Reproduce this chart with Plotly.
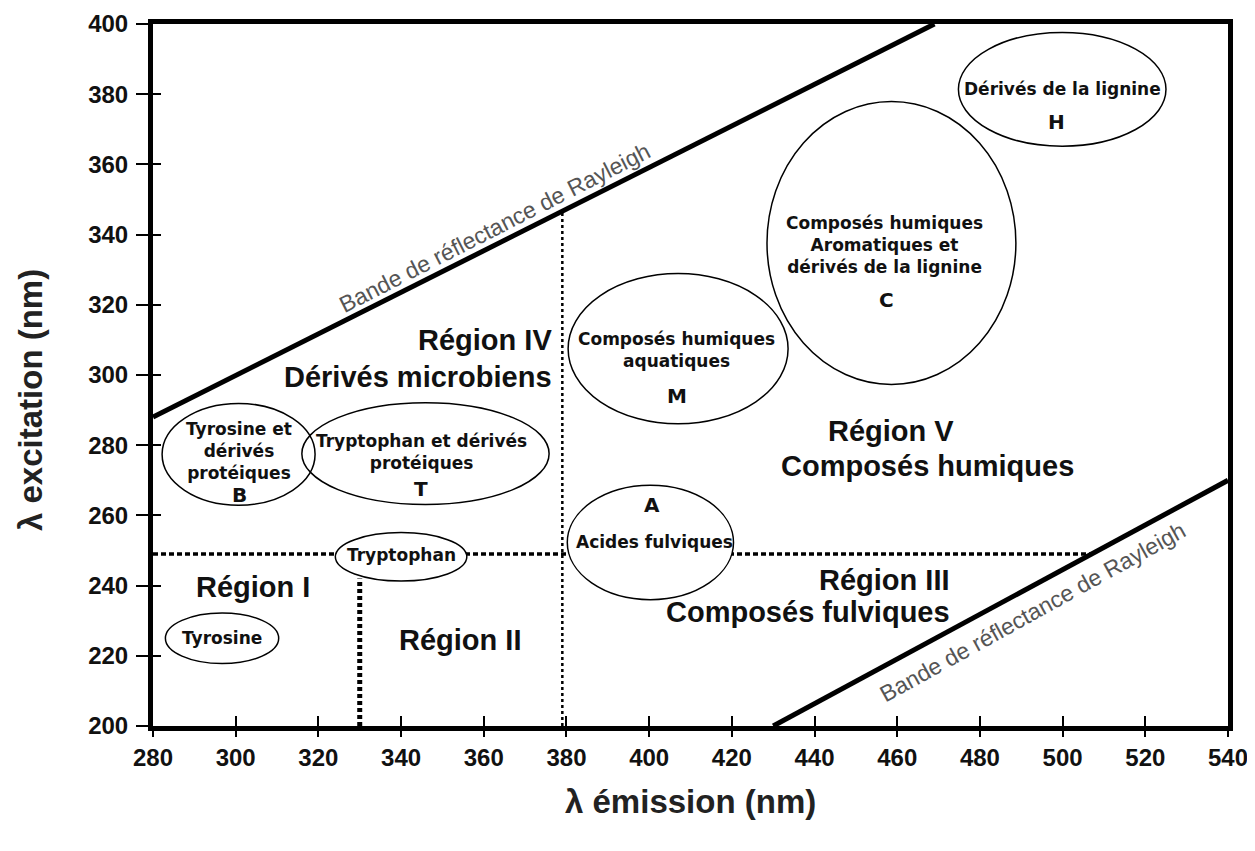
import plotly.graph_objects as go

# ---- data ----
x_range = [280, 540]
y_range = [200, 400]
x_ticks = list(range(280, 541, 20))
y_ticks = list(range(200, 401, 20))

# Rayleigh bands
rayleigh_upper_x = [280, 469]
rayleigh_upper_y = [288, 400]
rayleigh_lower_x = [430, 540]
rayleigh_lower_y = [200, 270]

# region boundaries (dotted)
boundary_h_x = [280, 507]
boundary_h_y = [249, 249]
boundary_v1_x = [330, 330]
boundary_v1_y = [200, 242]
boundary_v2_x = [379, 379]
boundary_v2_y = [200, 347]

# ellipses: centre x, centre y, half-width, half-height
ell_names = ["B", "T", "Tryptophan", "Tyrosine", "M", "A", "C", "H"]
ell_cx = [300.7, 345.9, 340.0, 296.7, 407.0, 400.3, 458.6, 499.9]
ell_cy = [277.4, 277.6, 248.2, 225.0, 307.5, 252.3, 337.6, 381.4]
ell_rx = [18.5, 29.9, 15.9, 13.7, 26.6, 20.1, 30.1, 25.1]
ell_ry = [14.5, 14.5, 6.9, 7.2, 21.4, 16.3, 40.3, 16.2]

# ellipse descriptions
lab_text = ["Tyrosine et<br>dérivés<br>protéiques",
            "Tryptophan et dérivés<br>protéiques",
            "Tryptophan",
            "Tyrosine",
            "Composés humiques<br>aquatiques",
            "Acides fulviques",
            "Composés humiques<br>Aromatiques et<br>dérivés de la lignine",
            "Dérivés de la lignine"]
lab_x = [300.8, 345.0, 340.2, 296.7, 406.7, 401.2, 456.8, 500.0]
lab_y = [278.3, 278.1, 248.6, 225.2, 307.0, 252.3, 337.1, 381.4]

# ellipse peak letters
peak_text = ["B", "T", "M", "A", "C", "H"]
peak_x = [300.8, 344.9, 406.7, 400.7, 457.5, 498.6]
peak_y = [265.7, 267.4, 293.9, 263.1, 321.5, 372.0]

# region labels
reg_text = ["Région I", "Région II", "Région III", "Composés fulviques",
            "Région IV", "Dérivés microbiens", "Région V", "Composés humiques"]
reg_x = [304.2, 354.2, 473.2, 473.2, 377.0, 377.0, 458.5, 467.2]
reg_y = [239.5, 224.6, 241.7, 232.6, 310.1, 299.3, 284.0, 274.2]
reg_anchor = ["center", "center", "right", "right", "right", "right", "center", "center"]

# Rayleigh labels
ray_label = "Bande de réflectance de Rayleigh"
ray_x = [362.5, 492.8]
ray_y = [342.0, 232.5]
ray_angle = [-27, -29]

# ---- styling ----
filled_ellipses = {"Tryptophan", "A"}   # these hide the dotted boundary behind them
small_font = dict(family="DejaVu Sans", size=17, color="#111", weight="bold")
letter_font = dict(family="DejaVu Sans", size=20, color="#111", weight="bold")

fig = go.Figure()

fig.add_trace(go.Scatter(x=rayleigh_upper_x, y=rayleigh_upper_y, mode="lines",
                         line=dict(color="black", width=5), hoverinfo="skip"))
fig.add_trace(go.Scatter(x=rayleigh_lower_x, y=rayleigh_lower_y, mode="lines",
                         line=dict(color="black", width=5), hoverinfo="skip"))
fig.add_trace(go.Scatter(x=boundary_h_x, y=boundary_h_y, mode="lines",
                         line=dict(color="black", width=3.5, dash="5px,3px"), hoverinfo="skip"))
fig.add_trace(go.Scatter(x=boundary_v1_x, y=boundary_v1_y, mode="lines",
                         line=dict(color="black", width=5, dash="4px,3px"), hoverinfo="skip"))
fig.add_trace(go.Scatter(x=boundary_v2_x, y=boundary_v2_y, mode="lines",
                         line=dict(color="black", width=2.5, dash="3px,3px"), hoverinfo="skip"))
# dummy trace for overlay axes (inside ticks)
fig.add_trace(go.Scatter(x=[x_range[0]], y=[y_range[0]], mode="markers", marker=dict(opacity=0),
                         xaxis="x2", yaxis="y2", hoverinfo="skip"))

shapes = []
for name, cx, cy, rx, ry in zip(ell_names, ell_cx, ell_cy, ell_rx, ell_ry):
    shp = dict(type="circle", xref="x", yref="y",
               x0=cx - rx, x1=cx + rx, y0=cy - ry, y1=cy + ry,
               line=dict(color="black", width=1.5))
    if name in filled_ellipses:
        shp["fillcolor"] = "white"
    shapes.append(shp)

annotations = []
for t, x, y in zip(lab_text, lab_x, lab_y):
    annotations.append(dict(text=t, x=x, y=y, xref="x", yref="y", showarrow=False,
                            xanchor="center", yanchor="middle", font=small_font))
for t, x, y in zip(peak_text, peak_x, peak_y):
    annotations.append(dict(text=t, x=x, y=y, xref="x", yref="y", showarrow=False,
                            xanchor="center", yanchor="middle", font=letter_font))
for t, x, y, a in zip(reg_text, reg_x, reg_y, reg_anchor):
    annotations.append(dict(text=t, x=x, y=y, xref="x", yref="y", showarrow=False,
                            xanchor=a, yanchor="middle",
                            font=dict(family="Liberation Sans, Arial", size=29, color="#111", weight="bold")))
for x, y, ang in zip(ray_x, ray_y, ray_angle):
    annotations.append(dict(text=ray_label, x=x, y=y, xref="x", yref="y", showarrow=False,
                            textangle=ang, xanchor="center", yanchor="middle",
                            font=dict(family="Liberation Sans, Arial", size=23, color="#555")))
annotations.append(dict(text="λ émission (nm)", x=0.5, y=-0.1075, xref="paper", yref="paper",
                        showarrow=False, xanchor="center", yanchor="middle",
                        font=dict(family="Liberation Sans, Arial", size=33, color="#222", weight="bold")))
annotations.append(dict(text="λ excitation (nm)", x=-0.114, y=0.465, xref="paper", yref="paper",
                        showarrow=False, textangle=-90, xanchor="center", yanchor="middle",
                        font=dict(family="Liberation Sans, Arial", size=33, color="#222", weight="bold")))

tickfont = dict(family="Liberation Sans, Arial", size=24, color="#111", weight="bold")
# the page body adds an 8 px offset, so the figure is slightly smaller
fig.update_layout(
    width=1247, height=843,
    margin=dict(l=145, r=27, t=16, b=125),
    paper_bgcolor="white", plot_bgcolor="white",
    showlegend=False,
    shapes=shapes,
    annotations=annotations,
    xaxis=dict(range=x_range, tickvals=x_ticks, ticks="outside", ticklen=6, tickwidth=2,
               tickcolor="black", showline=True, linewidth=5, linecolor="black", mirror=True,
               showgrid=False, zeroline=False, tickfont=tickfont, ticklabelstandoff=0,
               automargin=False),
    yaxis=dict(range=y_range, tickvals=y_ticks, ticks="outside", ticklen=12, tickwidth=2,
               tickcolor="black", showline=True, linewidth=5, linecolor="black", mirror=True,
               showgrid=False, zeroline=False, tickfont=tickfont, ticklabelstandoff=3,
               automargin=False),
    xaxis2=dict(range=x_range, tickvals=x_ticks, ticks="inside", ticklen=10, tickwidth=2,
                tickcolor="black", overlaying="x", showticklabels=False, showgrid=False,
                zeroline=False, showline=False, automargin=False),
    yaxis2=dict(range=y_range, tickvals=y_ticks, ticks="inside", ticklen=8, tickwidth=2,
                tickcolor="black", overlaying="y", showticklabels=False, showgrid=False,
                zeroline=False, showline=False, automargin=False),
)

fig.write_html("out.html")
